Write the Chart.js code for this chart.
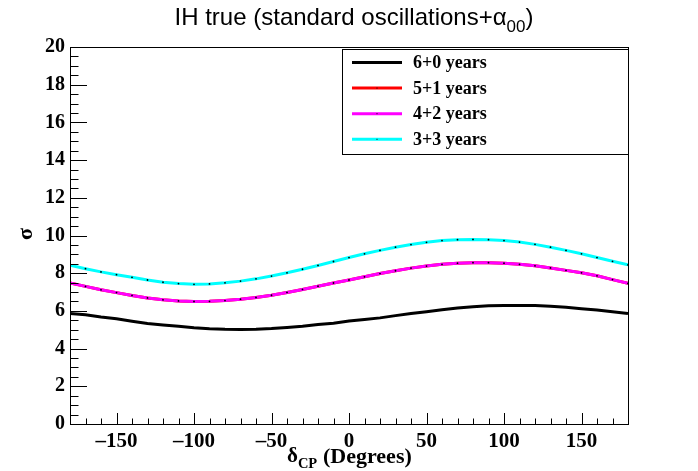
<!DOCTYPE html>
<html>
<head>
<meta charset="utf-8">
<script src="https://cdn.jsdelivr.net/npm/chart.js@4.4.1/dist/chart.umd.min.js"></script>
<style>
html, body { margin: 0; padding: 0; background: #fff; }
#mycanvas { display: block; }
</style>
</head>
<body>
<canvas id="mycanvas" width="698" height="471"></canvas>
<script>
// delta_CP grid (degrees)
var deltaCP = [-180,-170,-160,-150,-140,-130,-120,-110,-100,-90,-80,-70,-60,-50,-40,-30,-20,-10,
	0,10,20,30,40,50,60,70,80,90,100,110,120,130,140,150,160,170,180];

// sigma values
var sigma60 = [5.86,5.80,5.68,5.58,5.45,5.33,5.25,5.18,5.10,5.05,5.02,5.01,5.02,5.06,5.12,5.19,5.28,5.35,
	5.46,5.54,5.63,5.75,5.86,5.96,6.06,6.15,6.22,6.27,6.29,6.29,6.28,6.25,6.19,6.12,6.05,5.96,5.86];
var sigma51 = [7.48,7.30,7.12,6.97,6.82,6.69,6.59,6.53,6.50,6.51,6.55,6.62,6.71,6.83,6.98,7.14,7.31,7.48,
	7.64,7.81,7.98,8.13,8.27,8.38,8.47,8.53,8.56,8.56,8.53,8.47,8.39,8.28,8.15,8.02,7.86,7.66,7.46];
var sigma42 = [7.48,7.30,7.12,6.97,6.82,6.69,6.59,6.53,6.50,6.51,6.55,6.62,6.71,6.83,6.98,7.14,7.31,7.48,
	7.64,7.81,7.98,8.13,8.27,8.38,8.47,8.53,8.56,8.56,8.53,8.47,8.39,8.28,8.15,8.02,7.86,7.66,7.46];
var sigma33 = [8.42,8.24,8.07,7.92,7.78,7.64,7.52,7.45,7.41,7.43,7.49,7.58,7.70,7.85,8.02,8.21,8.41,8.62,
	8.83,9.03,9.21,9.38,9.52,9.64,9.73,9.78,9.79,9.78,9.73,9.65,9.53,9.38,9.21,9.03,8.83,8.63,8.44];

var seriesLabels = ['6+0 years', '5+1 years', '4+2 years', '3+3 years'];
var xTicks = [-150, -100, -50, 0, 50, 100, 150];
var yTicks = [0, 2, 4, 6, 8, 10, 12, 14, 16, 18, 20];

var colors = ['#000000', '#ff0000', '#ff00ff', '#00ffff'];

function toPoints(ys) {
	var pts = [];
	for (var i in deltaCP) {
		pts.push({x: deltaCP[i], y: ys[i]});
	}
	return pts;
}

var allSeries = [sigma60, sigma51, sigma42, sigma33];
var drawOrder = [0, 2, 1, 0];
var datasets = [];
for (var i in allSeries) {
	datasets.push({
		label: seriesLabels[i],
		data: toPoints(allSeries[i]),
		borderColor: colors[i],
		borderWidth: 3,
		pointRadius: i == 0 ? 0 : 0.9,
		pointBorderWidth: 0,
		pointBackgroundColor: '#000',
		tension: 0,
		order: drawOrder[i]
	});
}

var serif = '"Liberation Serif", "Times New Roman", serif';
var sans = '"Liberation Sans", Arial, sans-serif';

// frame, inner ticks, titles and legend box in ROOT style
var rootStyle = {
	id: 'rootStyle',
	afterDraw: function(chart) {
		var ctx = chart.ctx;
		var a = chart.chartArea;
		var xs = chart.scales.x, ys = chart.scales.y;
		ctx.save();
		ctx.strokeStyle = '#000';
		ctx.fillStyle = '#000';
		ctx.lineWidth = 1;

		// frame
		ctx.strokeRect(Math.round(a.left) + 0.5, Math.round(a.top) + 0.5,
			Math.round(a.right - a.left), Math.round(a.bottom - a.top));

		// ticks
		ctx.beginPath();
		for (var k = 0; k <= 36; k++) {
			var v = -180 + k * 10;
			var px = Math.round(xs.getPixelForValue(v)) + 0.5;
			var len = (v % 50 === 0) ? 11 : 5.5;
			ctx.moveTo(px, a.bottom);
			ctx.lineTo(px, a.bottom - len);
		}
		for (var k = 0; k <= 40; k++) {
			var v = k * 0.5;
			var py = Math.round(ys.getPixelForValue(v)) + 0.5;
			var len = (k % 4 === 0) ? 17 : 8.5;
			ctx.moveTo(a.left, py);
			ctx.lineTo(a.left + len, py);
		}
		ctx.stroke();

		// title
		ctx.font = '24px ' + sans;
		ctx.textBaseline = 'alphabetic';
		ctx.textAlign = 'left';
		var t1 = 'IH true (standard oscillations+\u03b1';
		var w1 = ctx.measureText(t1).width;
		ctx.font = '17px ' + sans;
		var w2 = ctx.measureText('00').width;
		ctx.font = '24px ' + sans;
		var w3 = ctx.measureText(')').width;
		var tx = 354 - (w1 + w2 + w3) / 2;
		ctx.fillText(t1, tx, 25);
		ctx.font = '17px ' + sans;
		ctx.fillText('00', tx + w1, 32);
		ctx.font = '24px ' + sans;
		ctx.fillText(')', tx + w1 + w2, 25);

		// x axis title
		ctx.font = 'bold 21px ' + serif;
		var dw1 = ctx.measureText('\u03b4').width;
		var ax = 287;
		ctx.fillText('\u03b4', ax, 462);
		ctx.font = 'bold 14.5px ' + serif;
		ctx.fillText('CP', ax + dw1, 468);
		ctx.font = 'bold 22px ' + serif;
		ctx.fillText('(Degrees)', 323, 463);

		// y axis title
		ctx.save();
		ctx.translate(26, 234);
		ctx.rotate(-Math.PI / 2);
		ctx.textAlign = 'center';
		ctx.textBaseline = 'middle';
		ctx.font = 'bold 22px ' + serif;
		ctx.fillText('\u03c3', 0, 0);
		ctx.restore();

		// legend
		var lx = 342.5, ly = 49.5, lw = Math.round(a.right) - 342, lh = 105;
		ctx.fillStyle = '#fff';
		ctx.fillRect(lx, ly, lw, lh);
		ctx.strokeRect(lx, ly, lw, lh);
		ctx.font = 'bold 18px ' + serif;
		ctx.textBaseline = 'middle';
		var ds = chart.data.datasets;
		for (var j = 0; j < ds.length; j++) {
			var ry = 62.5 + j * 25.6;
			ctx.strokeStyle = ds[j].borderColor;
			ctx.lineWidth = 3;
			ctx.beginPath();
			ctx.moveTo(352, ry);
			ctx.lineTo(402, ry);
			ctx.stroke();
			if (j > 0) {
				ctx.fillStyle = '#000';
				ctx.fillRect(376.5, ry - 0.5, 1, 1);
			}
			ctx.fillStyle = '#000';
			ctx.fillText(ds[j].label, 413, ry + 1);
		}
		ctx.restore();
	}
};

var ctx = document.getElementById('mycanvas');

var lineGraph = new Chart(ctx, {
	type: 'line',
	data: { datasets: datasets },
	options: {
		responsive: false,
		animation: false,
		devicePixelRatio: 1,
		layout: { padding: { top: 47, right: 70, left: 0, bottom: 0 } },
		plugins: {
			legend: { display: false },
			title: { display: false },
			tooltip: { enabled: false }
		},
		scales: {
			x: {
				type: 'linear',
				min: -180,
				max: 180,
				grid: { display: false, drawTicks: false },
				border: { display: false },
				afterBuildTicks: function(scale) {
					scale.ticks = xTicks.map(function(v) { return {value: v}; });
				},
				afterFit: function(scale) { scale.height = 47; },
				ticks: {
					padding: 5,
					color: '#000',
					maxRotation: 0,
					font: { family: serif, size: 21, weight: 'bold' },
					callback: function(v) { return String(v).replace('-', '\u2013'); }
				}
			},
			y: {
				min: 0,
				max: 20,
				grid: { display: false, drawTicks: false },
				border: { display: false },
				afterBuildTicks: function(scale) {
					scale.ticks = yTicks.map(function(v) { return {value: v}; });
				},
				afterFit: function(scale) { scale.width = 70; },
				ticks: {
					padding: 5,
					color: '#000',
					font: { family: serif, size: 20, weight: 'bold' }
				}
			}
		}
	},
	plugins: [rootStyle]
});
</script>
</body>
</html>
